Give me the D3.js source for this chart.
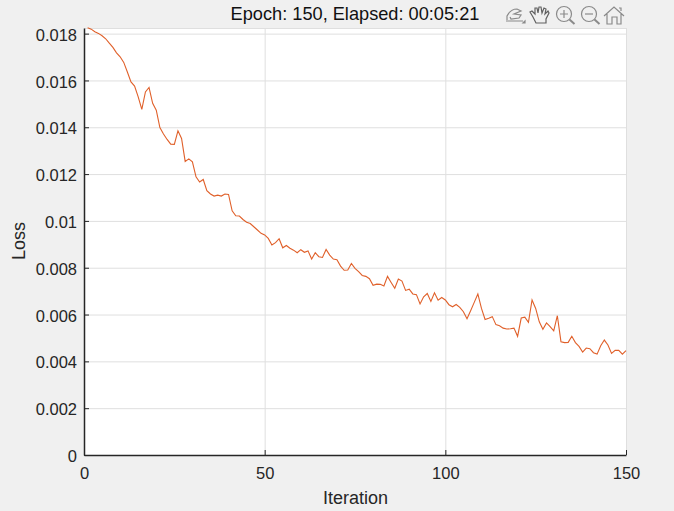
<!DOCTYPE html>
<html>
<head>
<meta charset="utf-8">
<title>Loss</title>
<script src="https://cdnjs.cloudflare.com/ajax/libs/d3/7.8.5/d3.min.js"></script>
<style>
  html, body { margin: 0; padding: 0; background: #f0f0f0; overflow: hidden; }
  svg { display: block; font-family: "Liberation Sans", Arial, sans-serif; }
</style>
</head>
<body>
<div id="chart"></div>
<script>
var titleText = 'Epoch: 150, Elapsed: 00:05:21';
var xLabel = 'Iteration';
var yLabel = 'Loss';
var xTicks = [0, 50, 100, 150];
var yTicks = [0, 0.002, 0.004, 0.006, 0.008, 0.01, 0.012, 0.014, 0.016, 0.018];
var yLimit = 0.01824;

// loss for iterations 1..150
var loss = [
  0.01825, 0.01819, 0.01808, 0.01801, 0.01791, 0.01778, 0.01759, 0.01741, 0.01718, 0.01701,
  0.01677, 0.01636, 0.01594, 0.01576, 0.0153, 0.01476, 0.01551, 0.0157, 0.01502, 0.01473,
  0.01399, 0.01371, 0.01348, 0.01328, 0.01327, 0.01385, 0.01352, 0.01254, 0.01265, 0.01252,
  0.01188, 0.01166, 0.01177, 0.01129, 0.01115, 0.01106, 0.0111, 0.01106, 0.01115, 0.01113,
  0.01043, 0.01022, 0.01021, 0.01006, 0.00994, 0.00989, 0.00975, 0.00961, 0.00947, 0.0094,
  0.00925, 0.00897, 0.00907, 0.00924, 0.00885, 0.00895, 0.00883, 0.00875, 0.00864, 0.00877,
  0.00866, 0.00872, 0.00837, 0.00864, 0.00847, 0.00844, 0.00878, 0.00854, 0.00837, 0.00834,
  0.00807, 0.00789, 0.0079, 0.00818, 0.00797, 0.00783, 0.00767, 0.00763, 0.00753, 0.00725,
  0.0073, 0.00729, 0.00722, 0.00763, 0.00737, 0.00712, 0.00752, 0.00743, 0.00703, 0.00708,
  0.00688, 0.00685, 0.00645, 0.00676, 0.0069, 0.00656, 0.00693, 0.00661, 0.00673, 0.00662,
  0.00642, 0.00633, 0.00643, 0.00631, 0.00612, 0.00582, 0.00616, 0.00652, 0.00688, 0.00626,
  0.00579, 0.00584, 0.00591, 0.00557, 0.00552, 0.00542, 0.00538, 0.00539, 0.00542, 0.00507,
  0.00585, 0.00589, 0.00567, 0.00662, 0.00626, 0.00569, 0.00537, 0.00564, 0.00548, 0.0053,
  0.00595, 0.00484, 0.0048, 0.00481, 0.00507, 0.0048, 0.00464, 0.0044, 0.00457, 0.00454,
  0.00437, 0.00431, 0.00467, 0.00491, 0.0047, 0.00434, 0.00447, 0.00447, 0.00431, 0.00446
];

var width = 674;
var height = 511;
var margin = {
  top: 28,
  right: 48,
  bottom: 56,
  left: 84
};
var textColor = '#262626';
var gridColor = '#dfdfdf';
var lineColor = '#e0602a';

var svg = d3.select('#chart').append('svg')
  .attr('width', width)
  .attr('height', height)
  .attr('viewBox', '0 0 ' + width + ' ' + height);

var plotWidth = width - margin.left - margin.right;
var plotHeight = height - margin.top - margin.bottom;

var x = d3.scaleLinear().domain([0, 150]).range([0, plotWidth]);
var y = d3.scaleLinear().domain([0, yLimit]).range([plotHeight, 0]);

var group = svg.append('g')
  .attr('transform', 'translate(' + margin.left + ',' + margin.top + ')');

group.append('rect')
  .attr('width', plotWidth)
  .attr('height', plotHeight)
  .style('fill', 'white');

// Grid lines first so the axes sit on top of them.
var xGrid = group.append('g')
  .attr('transform', 'translate(0,' + plotHeight + ')')
  .call(d3.axisBottom(x).tickValues(xTicks).tickSize(-plotHeight).tickFormat(''));
var yGrid = group.append('g')
  .call(d3.axisLeft(y).tickValues(yTicks).tickSize(-plotWidth).tickFormat(''));
[xGrid, yGrid].forEach(function (grid) {
  grid.select('.domain').remove();
  grid.selectAll('line').style('stroke', gridColor).style('stroke-width', 1);
});

group.append('line')
  .attr('x1', 0)
  .attr('x2', plotWidth)
  .attr('y1', 0.5)
  .attr('y2', 0.5)
  .style('stroke', gridColor);

var line = d3.line()
  .x(function (d, i) { return x(i + 1); })
  .y(function (d) { return y(d); });

group.append('path')
  .datum(loss)
  .attr('d', line)
  .style('fill', 'none')
  .style('stroke', lineColor)
  .style('stroke-width', 1.1);

var xAxis = group.append('g')
  .attr('transform', 'translate(0,' + plotHeight + ')')
  .call(d3.axisBottom(x).tickValues(xTicks).tickSizeInner(-5).tickSizeOuter(0).tickPadding(12)
    .tickFormat(d3.format('d')));
var yAxis = group.append('g')
  .call(d3.axisLeft(y).tickValues(yTicks).tickSizeInner(-5).tickSizeOuter(0).tickPadding(7)
    .tickFormat(function (d) { return String(+d.toFixed(3)); }));

[xAxis, yAxis].forEach(function (axis) {
  axis.select('.domain').style('stroke', textColor).style('stroke-width', 1.5);
  axis.selectAll('line').style('stroke', textColor);
  axis.selectAll('text')
    .style('fill', textColor)
    .style('font-family', '"Liberation Sans", Arial, sans-serif')
    .style('font-size', '16.5px');
});
yAxis.selectAll('text').attr('dy', '0.4em');

svg.append('text')
  .attr('x', 355.5)
  .attr('y', 504)
  .attr('text-anchor', 'middle')
  .style('fill', textColor)
  .style('font-size', '18px')
  .text(xLabel);

svg.append('text')
  .attr('transform', 'translate(25,241) rotate(-90)')
  .attr('text-anchor', 'middle')
  .style('fill', textColor)
  .style('font-size', '18px')
  .text(yLabel);

svg.append('text')
  .attr('x', 355)
  .attr('y', 20)
  .attr('text-anchor', 'middle')
  .style('fill', '#111')
  .style('font-size', '18.2px')
  .text(titleText);

// Toolbar icons at the top right of the axes.
var iconColor = '#8a8a8a';
var icons = svg.append('g')
  .style('fill', 'none')
  .style('stroke', iconColor)
  .style('stroke-width', 1.2);

icons.append('path')
  .attr('d', 'M 506 21 L 523 21 M 507 20 L 507 16 C 509 12 513 9 517 9 L 521 11 L 514 14 L 521 15 L 519 18 L 511 19 L 510 17');
icons.append('path')
  .attr('d', 'M 525 23 L 525 21 L 523 23 Z')
  .style('fill', iconColor);
icons.append('path')
  .attr('d', 'M 536 23 L 533 17 L 530 12 L 532 11 L 535 14 L 535 8 L 537 8 L 538 13 L 539 7 L 541 7 L 542 13 L 544 8 L 546 9 L 545 14 L 548 11 L 549 13 L 546 19 L 546 23 Z')
  .style('stroke', '#606060');

[564, 589].forEach(function (cx, i) {
  icons.append('circle')
    .attr('cx', cx)
    .attr('cy', 14)
    .attr('r', 7.5);
  icons.append('path')
    .attr('d', 'M ' + (cx + 5.5) + ' 19.5 L ' + (cx + 10.5) + ' 24')
    .style('stroke-width', 2);
  icons.append('path')
    .attr('d', 'M ' + (cx - 4) + ' 14 L ' + (cx + 4) + ' 14' +
      (i === 0 ? ' M ' + cx + ' 10 L ' + cx + ' 18' : ''));
});

icons.append('path')
  .attr('d', 'M 604 16 L 614 7 L 624 16 M 607 14 L 607 24 L 612 24 L 612 17 L 617 17 L 617 24 L 621 24 L 621 14 M 619 8 L 621 8 L 621 11');
</script>
</body>
</html>
